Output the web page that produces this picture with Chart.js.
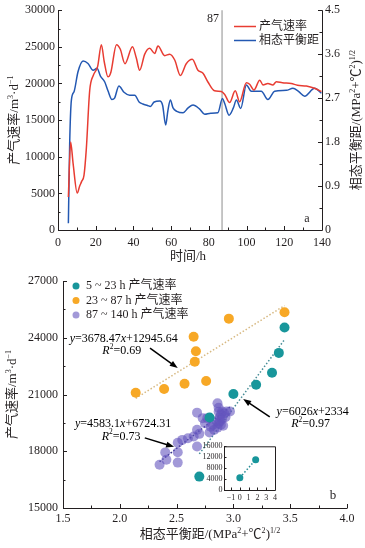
<!DOCTYPE html>
<html>
<head>
<meta charset="utf-8">
<script src="https://cdn.jsdelivr.net/npm/chart.js@4.4.0/dist/chart.umd.min.js"></script>
<style>
html, body { margin: 0; padding: 0; background: #fff; }
body { width: 365px; height: 548px; position: relative; overflow: hidden; }
canvas { position: absolute; }
#top { left: 0; top: 0; }
#bottom { left: 0; top: 250px; }
#inset { left: 200px; top: 440px; }
</style>
</head>
<body>
<canvas id="top" width="365" height="265"></canvas>
<canvas id="bottom" width="365" height="298"></canvas>
<canvas id="inset" width="85" height="75"></canvas>
<script>
// ---- chart a: gas rate and phase distance vs time ----
const rateTime = [5.5, 6.7, 8, 10.2, 11.5, 12.5, 13.8, 15, 16.8, 18.7, 21, 23, 24.5, 26.5, 28, 31, 33, 35.5, 39.5, 41.5,
  43.3, 46, 48.6, 51.3, 53, 56.6, 59.2, 61.9, 64.9, 68, 71.2, 74.2, 76.9, 79.5, 83, 86.6, 88.4, 91, 94, 96.3,
  99.9, 101.6, 103.9, 107, 108.7, 111.3, 114, 115.8, 119, 123.7, 127, 131.7, 136, 139.7]
const rateValue = [4500, 12000, 9100, 5050, 6000, 6600, 7500, 11000, 19000, 21100, 22300, 25300, 23000, 20900, 21500, 25300, 24700, 22700, 25000, 23500,
  21800, 24000, 24800, 24100, 25100, 23800, 24000, 23200, 21100, 22700, 23300, 21800, 21400, 20200, 19000, 18900, 18500, 17400, 19000, 17500,
  20100, 19900, 19100, 20450, 19800, 20000, 19800, 20250, 20100, 20000, 19750, 19650, 19350, 18900]

const distTime = [5.5, 6.2, 7.1, 8.5, 10.6, 13.3, 15.9, 18.6, 20.7, 22.5, 24.8, 26.5, 28.6, 30, 32.3, 35, 38, 40.7, 43, 45,
  47.5, 49, 51, 54, 55.5, 57.1, 58.3, 59.6, 61, 63, 66.3, 69, 71.6, 75, 77.8, 81, 84.8, 87.2, 88.4, 90.7,
  93, 94.6, 96.9, 99.9, 102.5, 107.8, 111.3, 114.9, 121.1, 124.6, 127.5, 130.8, 136.1, 139.7]
const distValue = [0.14, 1.78, 2.66, 2.83, 3.24, 3.46, 3.41, 3.27, 3.31, 3.15, 3.03, 2.85, 2.67, 2.70, 2.95, 2.82, 2.76, 2.76, 2.62, 2.58,
  2.55, 2.53, 2.62, 2.64, 2.55, 2.15, 2.45, 2.66, 2.50, 2.43, 2.40, 2.50, 2.56, 2.48, 2.37, 2.39, 2.40, 2.69, 2.59, 2.35,
  2.50, 2.66, 2.49, 2.97, 2.84, 2.84, 2.67, 2.84, 2.86, 2.90, 2.84, 2.74, 2.90, 2.80]

const timeTicks = [0, 20, 40, 60, 80, 100, 120, 140]
const rateTicks = [0, 5000, 10000, 15000, 20000, 25000, 30000]
const distTicks = [0, 0.9, 1.8, 2.7, 3.6, 4.5]
const splitTime = 87
const seriesNames = ['产气速率', '相态平衡距']

// ---- chart b: gas rate vs phase distance ----
const earlyX = [3.45, 3.40, 3.34, 3.20, 3.00, 2.79, 2.70]
const earlyY = [24540, 23200, 22150, 21520, 21030, 19780, 16660]
const midX = [3.45, 2.96, 2.65, 2.67, 2.66, 2.76, 2.57, 2.39, 2.14]
const midY = [25350, 25010, 24050, 23290, 22730, 21710, 21570, 21290, 21090]
const lateX = [2.35, 2.41, 2.40, 2.51, 2.51, 2.51, 2.55, 2.60, 2.65, 2.68, 2.70, 2.68, 2.79, 2.68, 2.73, 2.75, 2.77, 2.80, 2.82,
  2.83, 2.85, 2.86, 2.87, 2.87, 2.87, 2.88, 2.88, 2.89, 2.90, 2.90, 2.91, 2.92, 2.93, 2.94, 2.97, 2.86, 2.89]
const lateY = [17290, 17550, 17940, 17400, 17950, 18450, 18600, 18690, 18780, 19130, 18920, 18250, 18990, 20040, 19750, 19480, 19750, 19300, 19400,
  19130, 19600, 20540, 20300, 20090, 19480, 19800, 19570, 19950, 20100, 19700, 19350, 20000, 19800, 20100, 20100, 19250, 19400]

const earlyFitX = [2.70, 3.45]
const earlyFitY = [17860, 23900]
const midFitX = [2.14, 3.45]
const midFitY = [20800, 25700]
const lateFitX = [2.35, 2.97]
const lateFitY = [17450, 20340]

const phaseTicks = [1.5, 2.0, 2.5, 3.0, 3.5, 4.0]
const phaseLabels = ['1.5', '2.0', '2.5', '3.0', '3.5', '4.0']
const rateTicksB = [15000, 18000, 21000, 24000, 27000]
const groupNames = ['5 ~ 23 h 产气速率', '23 ~ 87 h 产气速率', '87 ~ 140 h 产气速率']

// inset
const insetX = [0, 1.8]
const insetY = [4500, 11100]
const insetXTicks = [-1, 0, 1, 2, 3, 4]
const insetYTicks = [0, 4000, 8000, 12000, 16000]

// ---- styles ----
const FONT = '"Liberation Serif", "Noto Sans CJK SC", serif'
const INK = '#231f20'
const RED = 'rgb(232, 60, 50)'
const BLUE = 'rgb(35, 88, 178)'
const TEAL = 'rgb(24, 150, 155)'
const ORANGE = 'rgb(247, 168, 38)'
const PURPLE = 'rgba(100, 85, 190, 0.6)'

const pts = (xs, ys) => xs.map((x, i) => ({ x: x, y: ys[i] }))
const fixTicks = list => s => { s.ticks = list.map(v => ({ value: v })) }

function rich(ctx, parts, x, y, size, align) {
  const fontOf = p => (p[1] === 'i' ? 'italic ' : '') + (p[1] === 'sup' ? size * 0.62 : size) + 'px ' + FONT
  let w = 0
  parts.forEach(p => { ctx.font = fontOf(p); w += ctx.measureText(p[0]).width })
  let sx = align === 'center' ? x - w / 2 : align === 'right' ? x - w : x
  ctx.textAlign = 'left'
  ctx.textBaseline = 'middle'
  parts.forEach(p => {
    ctx.font = fontOf(p)
    ctx.fillText(p[0], sx, p[1] === 'sup' ? y - size * 0.33 : y)
    sx += ctx.measureText(p[0]).width
  })
}

function richUp(ctx, parts, x, y, size) {
  ctx.save()
  ctx.translate(x, y)
  ctx.rotate(-Math.PI / 2)
  rich(ctx, parts, 0, 0, size, 'center')
  ctx.restore()
}

function tickMarks(ctx, scale, values, base, dir, vertical, big, small) {
  const minor = values.slice(1).map((v, i) => (v + values[i]) / 2)
  ;[[values, big], [minor, small]].forEach(([vals, len]) => vals.forEach(v => {
    const p = Math.round(scale.getPixelForValue(v)) + 0.5
    if (vertical) { ctx.moveTo(base, p); ctx.lineTo(base + dir * len, p) }
    else { ctx.moveTo(p, base); ctx.lineTo(p, base + dir * len) }
  }))
}

function arrow(ctx, x0, y0, x1, y1) {
  const ang = Math.atan2(y1 - y0, x1 - x0)
  const c = Math.cos(ang), s = Math.sin(ang), L = 8, W = 3
  ctx.beginPath()
  ctx.moveTo(x0, y0)
  ctx.lineTo(x1 - L * 0.8 * c, y1 - L * 0.8 * s)
  ctx.stroke()
  ctx.beginPath()
  ctx.moveTo(x1, y1)
  ctx.lineTo(x1 - L * c + W * s, y1 - L * s - W * c)
  ctx.lineTo(x1 - L * c - W * s, y1 - L * s + W * c)
  ctx.closePath()
  ctx.fill()
}

const rateTitle = [['产气速率/m', ''], ['3', 'sup'], ['·d', ''], ['−1', 'sup']]
const distTitle = [['相态平衡距/(MPa', ''], ['2', 'sup'], ['+℃', ''], ['2', 'sup'], [')', ''], ['1/2', 'sup']]

function axisOpts(min, max, list, fit, padding, cb) {
  return {
    min: min, max: max,
    afterBuildTicks: fixTicks(list),
    afterFit: fit,
    grid: { display: false, drawTicks: false },
    border: { display: false },
    ticks: { font: { family: FONT, size: 12 }, color: INK, padding: padding, autoSkip: false, maxRotation: 0,
      callback: cb || (v => String(v)) }
  }
}

// ---- chart a ----
const topDecor = {
  id: 'topDecor',
  beforeDatasetsDraw(chart) {
    const { ctx, chartArea: a, scales: { x } } = chart
    const px = x.getPixelForValue(splitTime)
    ctx.save()
    ctx.strokeStyle = '#b3b3b3'
    ctx.lineWidth = 1.5
    ctx.beginPath()
    ctx.moveTo(px, a.top)
    ctx.lineTo(px, a.bottom)
    ctx.stroke()
    ctx.restore()
  },
  afterDraw(chart) {
    const { ctx, chartArea: a, scales: { x, y, y1 } } = chart
    ctx.save()
    ctx.strokeStyle = INK
    ctx.lineWidth = 1
    ctx.beginPath()
    ctx.moveTo(a.left + 0.5, a.top)
    ctx.lineTo(a.left + 0.5, a.bottom + 0.5)
    ctx.lineTo(a.right + 0.5, a.bottom + 0.5)
    ctx.lineTo(a.right + 0.5, a.top)
    tickMarks(ctx, y, rateTicks, a.left, 1, true, 4, 2.5)
    tickMarks(ctx, y1, distTicks, a.right, -1, true, 4, 2.5)
    tickMarks(ctx, x, timeTicks, a.bottom, -1, false, 4, 2.5)
    ctx.stroke()

    ctx.fillStyle = INK
    richUp(ctx, rateTitle, 15, (a.top + a.bottom) / 2, 13)
    richUp(ctx, distTitle, 357, (a.top + a.bottom) / 2, 13)
    rich(ctx, [['时间/h', '']], (a.left + a.right) / 2 - 2, 257, 13, 'center')
    rich(ctx, [[String(splitTime), '']], x.getPixelForValue(splitTime) - 3, 19, 12, 'right')
    rich(ctx, [['a', '']], a.right - 15, a.bottom - 11, 12, 'center')

    // legend
    chart.data.datasets.forEach((d, i) => {
      const ly = 26.5 + i * 14
      ctx.strokeStyle = d.borderColor
      ctx.lineWidth = 1.5
      ctx.beginPath()
      ctx.moveTo(234, ly)
      ctx.lineTo(256, ly)
      ctx.stroke()
      ctx.fillStyle = INK
      rich(ctx, [[d.label, '']], 259, ly, 12, 'left')
    })
    ctx.restore()
  }
}

new Chart(document.getElementById('top'), {
  type: 'line',
  data: {
    datasets: [
      { label: seriesNames[0], data: pts(rateTime, rateValue), yAxisID: 'y', borderColor: RED, borderWidth: 1.5,
        pointRadius: 0, cubicInterpolationMode: 'monotone' },
      { label: seriesNames[1], data: pts(distTime, distValue), yAxisID: 'y1', borderColor: BLUE, borderWidth: 1.5,
        pointRadius: 0, cubicInterpolationMode: 'monotone' }
    ]
  },
  options: {
    responsive: false,
    animation: false,
    devicePixelRatio: 1,
    layout: { padding: { top: 10, left: 0, right: 0, bottom: 0 } },
    plugins: { legend: { display: false }, tooltip: { enabled: false } },
    scales: {
      x: Object.assign({ type: 'linear' }, axisOpts(0, 140, timeTicks, s => { s.height = 35 }, 6)),
      y: Object.assign({ position: 'left' }, axisOpts(0, 30000, rateTicks, s => { s.width = 58 }, 3)),
      y1: Object.assign({ position: 'right' }, axisOpts(0, 4.5, distTicks, s => { s.width = 43 }, 3))
    }
  },
  plugins: [topDecor]
})

// ---- chart b ----
const notes = [
  { eq: ['3678.47', '12945.64'], r2: '0.69', at: [2.035, 23960], from: [2.266, 23450], to: [2.51, 22400] },
  { eq: ['6026', '2334'], r2: '0.97', at: [3.698, 20094], from: [3.32, 19814], to: [3.086, 20763] },
  { eq: ['4583.1', '6724.31'], r2: '0.73', at: [2.029, 19445], from: [2.22, 18707], to: [2.478, 18232] }
]

const bottomDecor = {
  id: 'bottomDecor',
  afterDraw(chart) {
    const { ctx, chartArea: a, scales: { x, y } } = chart
    ctx.save()
    ctx.strokeStyle = INK
    ctx.lineWidth = 1
    ctx.beginPath()
    ctx.moveTo(a.left + 0.5, a.top)
    ctx.lineTo(a.left + 0.5, a.bottom + 0.5)
    ctx.lineTo(a.right + 0.5, a.bottom + 0.5)
    tickMarks(ctx, y, rateTicksB, a.left, 1, true, 4, 2.5)
    tickMarks(ctx, x, phaseTicks, a.bottom, -1, false, 4, 2.5)
    ctx.stroke()

    ctx.fillStyle = INK
    richUp(ctx, rateTitle, 13, (a.top + a.bottom) / 2, 13)
    rich(ctx, distTitle, 210, 285, 13, 'center')
    rich(ctx, [['b', '']], a.right - 14, a.bottom - 12, 13, 'center')

    // legend
    chart.data.datasets.slice(0, 3).forEach((d, i) => {
      const ly = 36 + i * 14.5
      ctx.fillStyle = d.backgroundColor
      ctx.beginPath()
      ctx.arc(76, ly, 3.5, 0, Math.PI * 2)
      ctx.fill()
      ctx.fillStyle = INK
      rich(ctx, [[d.label, '']], 86, ly, 12, 'left')
    })

    // fit equations and arrows
    ctx.strokeStyle = '#000'
    ctx.fillStyle = '#000'
    ctx.lineWidth = 1.5
    notes.forEach(n => {
      const cx = x.getPixelForValue(n.at[0]), cy = y.getPixelForValue(n.at[1])
      rich(ctx, [['y', 'i'], ['=' + n.eq[0], ''], ['x', 'i'], ['+' + n.eq[1], '']], cx, cy, 12, 'center')
      rich(ctx, [['R', 'i'], ['2', 'sup'], ['=' + n.r2, '']], cx - 2, cy + 12.5, 12, 'center')
      arrow(ctx, x.getPixelForValue(n.from[0]), y.getPixelForValue(n.from[1]),
        x.getPixelForValue(n.to[0]), y.getPixelForValue(n.to[1]))
    })
    ctx.restore()
  }
}

const dotted = (color, xs, ys) => ({
  type: 'line', data: pts(xs, ys), borderColor: color, borderWidth: 1.5, borderDash: [1.5, 2],
  pointRadius: 0, showLine: true, fill: false
})

new Chart(document.getElementById('bottom'), {
  type: 'scatter',
  data: {
    datasets: [
      { label: groupNames[0], data: pts(earlyX, earlyY), backgroundColor: TEAL, borderWidth: 0, pointRadius: 5 },
      { label: groupNames[1], data: pts(midX, midY), backgroundColor: ORANGE, borderWidth: 0, pointRadius: 5 },
      { label: groupNames[2], data: pts(lateX, lateY), backgroundColor: PURPLE, borderWidth: 0, pointRadius: 5 },
      dotted('rgb(70, 140, 150)', earlyFitX, earlyFitY),
      dotted('rgb(215, 185, 130)', midFitX, midFitY),
      dotted('rgb(45, 45, 130)', lateFitX, lateFitY)
    ]
  },
  options: {
    responsive: false,
    animation: false,
    devicePixelRatio: 1,
    layout: { padding: { top: 31, left: 0, right: 18, bottom: 0 } },
    plugins: { legend: { display: false }, tooltip: { enabled: false } },
    scales: {
      x: Object.assign({ type: 'linear' }, axisOpts(1.5, 4.0, phaseTicks, s => { s.height = 40 }, 4, (v, i) => phaseLabels[i])),
      y: Object.assign({ position: 'left' }, axisOpts(15000, 27000, rateTicksB, s => { s.width = 63 }, 5))
    }
  },
  plugins: [bottomDecor]
})

// ---- inset ----
const insetDecor = {
  id: 'insetDecor',
  afterDraw(chart) {
    const { ctx, chartArea: a, scales: { x, y } } = chart
    ctx.save()
    ctx.strokeStyle = INK
    ctx.lineWidth = 1
    ctx.beginPath()
    ctx.rect(a.left + 0.5, a.top + 0.5, a.right - a.left, a.bottom - a.top)
    tickMarks(ctx, y, insetYTicks, a.left, 1, true, 2.5, 0)
    tickMarks(ctx, x, insetXTicks, a.bottom, -1, false, 2.5, 0)
    ctx.stroke()
    ctx.restore()
  }
}

const insetAxis = (min, max, list, fit, padding) => ({
  type: 'linear', min: min, max: max,
  afterBuildTicks: fixTicks(list),
  afterFit: fit,
  grid: { display: false, drawTicks: false },
  border: { display: false },
  ticks: { font: { family: FONT, size: 8 }, color: INK, padding: padding, autoSkip: false, maxRotation: 0,
    callback: v => (v < 0 ? '−' + Math.abs(v) : String(v)) }
})

new Chart(document.getElementById('inset'), {
  type: 'scatter',
  data: {
    datasets: [
      { data: pts(insetX, insetY), backgroundColor: TEAL, borderWidth: 0, pointRadius: 3.5 },
      dotted('rgb(40, 140, 150)', insetX, insetY)
    ]
  },
  options: {
    responsive: false,
    animation: false,
    devicePixelRatio: 1,
    layout: { padding: { top: 6, left: 0, right: 10, bottom: 0 } },
    plugins: { legend: { display: false }, tooltip: { enabled: false } },
    scales: {
      x: insetAxis(-1.8, 4, insetXTicks, s => { s.height = 25 }, 3),
      y: insetAxis(0, 16000, insetYTicks, s => { s.width = 24 }, 1.5)
    }
  },
  plugins: [insetDecor]
})
</script>
</body>
</html>
